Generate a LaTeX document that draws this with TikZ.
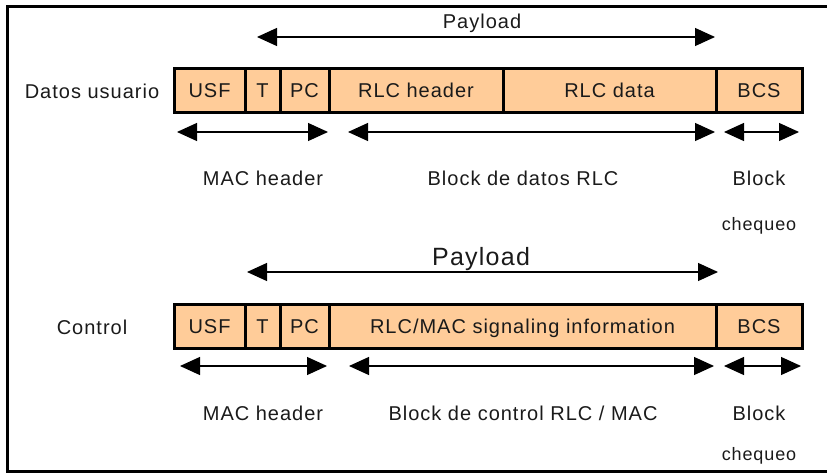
\documentclass[tikz,border=0pt]{standalone}
\usepackage{fontspec}
\setmainfont{Liberation Sans}[LetterSpace=5]
\usetikzlibrary{arrows.meta,positioning}
\definecolor{peach}{HTML}{FFCC99}
\definecolor{ink}{HTML}{1A1A1A}

\begin{document}
\begin{tikzpicture}[x=1pt,y=-1pt,
  node distance=0pt,
  cell/.style={draw=black, line width=3pt, fill=peach, outer sep=0pt, inner sep=0pt,
               minimum height=44pt, text height=14pt, text depth=0pt, text=ink,
               font=\fontsize{20}{22}\selectfont},
  note/.style={anchor=base, inner sep=0pt, text=ink, font=\fontsize{20}{22}\selectfont},
  smallnote/.style={note, font=\fontsize{18}{20}\selectfont},
  bignote/.style={note, font=\fontsize{25}{28}\selectfont},
  dimarrow/.style={{Triangle[length=20pt,width=18pt]}-{Triangle[length=20pt,width=18pt]},
                   line width=1.2pt, draw=black}
]
  \useasboundingbox (0,0) rectangle (827,473);
  \draw[line width=3pt] (7,7) rectangle (845,471.5);

  % user data block
  \node[note] (datoslabel) at (92,98.5) {Datos usuario};
  \node[cell, minimum width=71pt] (usf1) at (209.5,91) {USF};
  \node[cell, minimum width=35pt, right=of usf1] (t1) {T};
  \node[cell, minimum width=49pt, right=of t1] (pc1) {PC};
  \node[cell, minimum width=174pt, right=of pc1] (rlchdr1) {RLC header};
  \node[cell, minimum width=213pt, right=of rlchdr1] (rlcdata1) {RLC data};
  \node[cell, minimum width=86pt, right=of rlcdata1] (bcs1) {BCS};

  \node[note] (payload1) at (482,29) {Payload};
  \node[note] (mac1) at (263,186) {MAC header};
  \node[note] (blk1) at (523,186) {Block de datos RLC};
  \node[note] (chk1) at (759,186) {Block};
  \node[smallnote] (chq1) at (759,230) {chequeo};

  % control block
  \node[note] (controllabel) at (92,334) {Control};
  \node[cell, minimum width=71pt] (usf2) at (209.5,326) {USF};
  \node[cell, minimum width=35pt, right=of usf2] (t2) {T};
  \node[cell, minimum width=49pt, right=of t2] (pc2) {PC};
  \node[cell, minimum width=387pt, right=of pc2] (signal2) {RLC/MAC signaling information};
  \node[cell, minimum width=86pt, right=of signal2] (bcs2) {BCS};

  \node[bignote] (payload2) at (481,265.5) {Payload};
  \node[note] (mac2) at (263,420) {MAC header};
  \node[note] (blk2) at (523,420) {Block de control RLC / MAC};
  \node[note] (chk2) at (759,420) {Block};
  \node[smallnote] (chq2) at (759,460) {chequeo};

  % span arrows
  \coordinate (pay1a) at (257,37);  \coordinate (pay1b) at (715,37);
  \coordinate (mac1a) at (177,132); \coordinate (mac1b) at (328,132);
  \coordinate (blk1a) at (348,132); \coordinate (blk1b) at (715,132);
  \coordinate (chk1a) at (724,132); \coordinate (chk1b) at (799,132);
  \coordinate (pay2a) at (247,272); \coordinate (pay2b) at (718,272);
  \coordinate (mac2a) at (180,366); \coordinate (mac2b) at (327,366);
  \coordinate (blk2a) at (349,366); \coordinate (blk2b) at (714,366);
  \coordinate (chk2a) at (724,366); \coordinate (chk2b) at (801,366);

  \foreach \a/\b in {pay1a/pay1b,mac1a/mac1b,blk1a/blk1b,chk1a/chk1b,
                     pay2a/pay2b,mac2a/mac2b,blk2a/blk2b,chk2a/chk2b}
    \draw[dimarrow] (\a) -- (\b);
\end{tikzpicture}
\end{document}
